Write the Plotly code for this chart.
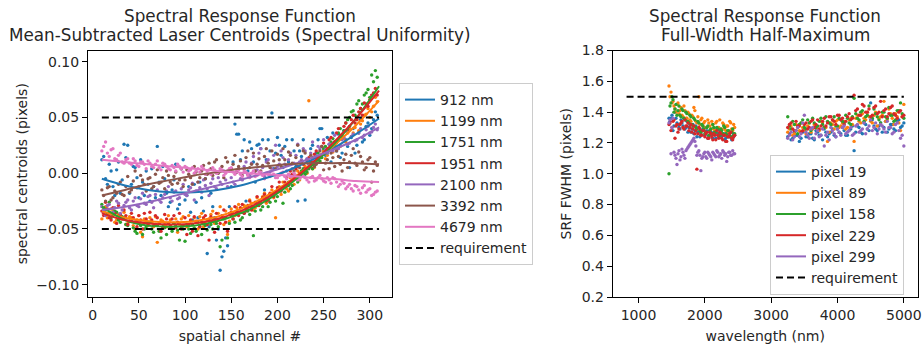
import plotly.graph_objects as go

FONT = "DejaVu Sans"
TXT = "#262626"
W, H = 923, 346

# ---------------- left panel data ----------------
channels_a = list(range(10, 307, 4))
channels_b = list(range(12, 309, 4))
fit_channels = [10, 35, 60, 85, 110, 135, 160, 185, 210, 235, 260, 285, 310]
laser_names = ["912 nm", "1199 nm", "1751 nm", "1951 nm", "2100 nm", "3392 nm", "4679 nm"]
laser_colors = ["#1f77b4", "#ff7f0e", "#2ca02c", "#d62728", "#9467bd", "#8c564b", "#e377c2"]

c912_a = [0.012, -0.005, 0.008, -0.012, 0.003, -0.018, 0.026,
          0.025, -0.010, 0.005, -0.022, -0.008, 0.002,
          -0.025, -0.012, 0.024, -0.020, -0.005, -0.030,
          -0.015, 0.008, -0.028, 0.012, -0.020, -0.035,
          -0.010, -0.040, -0.022, -0.005, -0.048, -0.030,
          -0.060, -0.087, -0.070, -0.065, -0.012, 0.044,
          0.035, 0.020, -0.025, 0.028, 0.010, 0.025,
          0.022, -0.015, 0.030, 0.054, 0.018, 0.025,
          0.005, 0.030, -0.002, 0.020, -0.025, 0.015,
          -0.024, 0.005, 0.025, 0.018, 0.040, 0.020,
          0.032, 0.010, 0.028, 0.035, 0.018, 0.030,
          0.005, 0.040, 0.025, 0.048, 0.030, 0.045,
          0.040, 0.055]
c912_b = [0.015, -0.010, 0.002, -0.020, 0.010, -0.006, 0.014,
          -0.018, 0.006, -0.004, 0.012, -0.020, -0.010,
          0.004, -0.022, -0.008, 0.006, -0.018, -0.026,
          -0.006, -0.032, 0.004, -0.024, -0.012, -0.042,
          -0.026, -0.008, -0.034, -0.072, -0.018, -0.040,
          -0.050, -0.075, -0.058, -0.030, 0.010, 0.035,
          0.012, 0.030, 0.002, 0.022, -0.008, 0.026,
          0.030, 0.012, 0.020, 0.004, 0.032, 0.016,
          0.024, 0.010, 0.030, 0.006, 0.020, 0.030,
          0.012, 0.022, 0.008, 0.030, 0.040, 0.016,
          0.026, 0.036, 0.020, 0.014, 0.038, 0.024,
          0.032, 0.018, 0.036, 0.028, 0.042, 0.034,
          0.048, 0.052]
c1199_a = [-0.041, -0.030, -0.036, -0.033, -0.042, -0.038, -0.035,
           -0.045, -0.040, -0.050, -0.038, -0.057, -0.044,
           -0.040, -0.048, -0.062, -0.042, -0.046, -0.038,
           -0.050, -0.041, -0.046, -0.039, -0.048, -0.043,
           -0.040, -0.050, -0.036, -0.045, -0.041, -0.034,
           -0.042, -0.030, -0.046, -0.055, -0.032, -0.038,
           -0.028, -0.035, -0.030, -0.024, -0.033, -0.022,
           -0.026, -0.018, -0.024, -0.015, -0.040, -0.012,
           -0.008, -0.014, -0.004, -0.010, 0.002, -0.003,
           0.006, 0.065, 0.004, 0.014, 0.010, 0.020,
           0.016, 0.026, 0.022, 0.030, 0.034, 0.028,
           0.040, 0.036, 0.048, 0.044, 0.052, 0.058,
           0.055, 0.068]
c1199_b = [-0.036, -0.040, -0.032, -0.044, -0.037, -0.041, -0.046,
           -0.039, -0.047, -0.042, -0.053, -0.041, -0.047,
           -0.044, -0.039, -0.051, -0.043, -0.048, -0.042,
           -0.045, -0.053, -0.041, -0.047, -0.038, -0.046,
           -0.044, -0.039, -0.048, -0.042, -0.037, -0.045,
           -0.036, -0.041, -0.034, -0.043, -0.036, -0.031,
           -0.035, -0.029, -0.033, -0.027, -0.031, -0.025,
           -0.021, -0.027, -0.019, -0.022, -0.016, -0.019,
           -0.011, -0.016, -0.007, -0.002, -0.006, 0.003,
           0.000, 0.009, 0.005, 0.012, 0.017, 0.013,
           0.022, 0.019, 0.027, 0.024, 0.031, 0.036,
           0.033, 0.041, 0.038, 0.047, 0.053, 0.050,
           0.060, 0.064]
c1751_a = [-0.028, -0.033, -0.026, -0.038, -0.035, -0.044, -0.040,
           -0.047, -0.043, -0.052, -0.045, -0.055, -0.048,
           -0.044, -0.053, -0.047, -0.058, -0.049, -0.045,
           -0.052, -0.047, -0.060, -0.050, -0.046, -0.054,
           -0.049, -0.044, -0.055, -0.047, -0.043, -0.050,
           -0.045, -0.066, -0.041, -0.058, -0.038, -0.044,
           -0.035, -0.040, -0.032, -0.037, -0.056, -0.029,
           -0.033, -0.024, -0.030, -0.020, -0.025, -0.016,
           -0.027, -0.010, -0.014, -0.004, -0.008, 0.002,
           -0.001, 0.008, 0.004, 0.015, 0.011, 0.022,
           0.018, 0.028, 0.025, 0.036, 0.032, 0.045,
           0.050, 0.056, 0.062, 0.058, 0.070, 0.075,
           0.088, 0.092]
c1751_b = [-0.031, -0.036, -0.040, -0.034, -0.042, -0.039, -0.046,
           -0.043, -0.049, -0.054, -0.047, -0.050, -0.044,
           -0.050, -0.046, -0.052, -0.048, -0.055, -0.049,
           -0.045, -0.051, -0.048, -0.061, -0.050, -0.046,
           -0.052, -0.048, -0.045, -0.051, -0.046, -0.042,
           -0.048, -0.060, -0.040, -0.045, -0.041, -0.037,
           -0.042, -0.036, -0.034, -0.030, -0.034, -0.027,
           -0.030, -0.022, -0.026, -0.018, -0.021, -0.013,
           -0.017, -0.008, -0.011, -0.002, -0.005, 0.004,
           0.001, 0.010, 0.007, 0.018, 0.014, 0.024,
           0.021, 0.031, 0.028, 0.040, 0.038, 0.048,
           0.055, 0.052, 0.065, 0.062, 0.072, 0.068,
           0.082, 0.086]
c1951_a = [-0.034, -0.026, -0.040, -0.031, -0.045, -0.037, -0.033,
           -0.046, -0.036, -0.044, -0.038, -0.050, -0.041,
           -0.035, -0.047, -0.040, -0.052, -0.037, -0.045,
           -0.041, -0.049, -0.036, -0.047, -0.055, -0.042,
           -0.039, -0.056, -0.044, -0.038, -0.060, -0.043,
           -0.036, -0.045, -0.033, -0.052, -0.035, -0.030,
           -0.038, -0.028, -0.034, -0.025, -0.030, -0.021,
           -0.027, -0.019, -0.024, -0.012, -0.017, -0.008,
           -0.012, -0.004, 0.002, -0.003, 0.006, 0.010,
           0.004, 0.014, 0.010, 0.020, 0.016, 0.027,
           0.022, 0.032, 0.028, 0.040, 0.035, 0.045,
           0.042, 0.052, 0.048, 0.058, 0.063, 0.060,
           0.070, 0.076]
c1951_b = [-0.038, -0.032, -0.042, -0.036, -0.029, -0.041, -0.038,
           -0.043, -0.040, -0.048, -0.042, -0.036, -0.046,
           -0.042, -0.038, -0.045, -0.049, -0.041, -0.047,
           -0.038, -0.044, -0.050, -0.040, -0.046, -0.052,
           -0.043, -0.048, -0.040, -0.046, -0.039, -0.053,
           -0.042, -0.038, -0.044, -0.036, -0.041, -0.034,
           -0.031, -0.036, -0.029, -0.033, -0.026, -0.029,
           -0.022, -0.025, -0.018, -0.021, -0.013, -0.016,
           -0.008, -0.011, -0.001, 0.004, 0.000, 0.008,
           0.012, 0.006, 0.017, 0.013, 0.024, 0.020,
           0.030, 0.026, 0.036, 0.033, 0.042, 0.039,
           0.048, 0.045, 0.055, 0.052, 0.062, 0.066,
           0.072, 0.070]
c2100_a = [-0.030, -0.038, -0.028, -0.035, -0.025, -0.036, -0.029,
           -0.024, -0.033, -0.022, -0.030, -0.018, -0.028,
           -0.020, -0.031, -0.015, -0.026, -0.019, -0.012,
           -0.025, -0.016, -0.022, -0.010, -0.020, -0.013,
           -0.024, -0.008, -0.017, -0.011, -0.020, -0.005,
           -0.014, -0.008, 0.002, -0.012, -0.004, -0.010,
           0.004, -0.006, 0.010, -0.002, 0.015, 0.003,
           0.022, -0.003, 0.012, 0.004, 0.025, 0.008,
           0.014, 0.002, 0.018, 0.009, 0.026, 0.012,
           0.020, 0.008, 0.028, 0.015, 0.022, 0.030,
           0.018, 0.026, 0.034, 0.022, 0.030, 0.038,
           0.027, 0.035, 0.030, 0.040, 0.034, 0.042,
           0.037, 0.044]
c2100_b = [-0.034, -0.029, -0.036, -0.031, -0.027, -0.033, -0.026,
           -0.031, -0.025, -0.029, -0.023, -0.027, -0.021,
           -0.026, -0.019, -0.024, -0.022, -0.016, -0.022,
           -0.017, -0.023, -0.014, -0.019, -0.015, -0.009,
           -0.016, -0.013, -0.006, -0.014, -0.009, -0.012,
           -0.004, -0.010, -0.006, 0.003, -0.008, 0.001,
           -0.005, 0.006, -0.001, 0.009, 0.002, 0.018,
           0.005, 0.010, 0.001, 0.016, 0.006, 0.020,
           0.008, 0.012, 0.004, 0.016, 0.010, 0.022,
           0.013, 0.018, 0.011, 0.024, 0.016, 0.021,
           0.026, 0.020, 0.028, 0.025, 0.032, 0.026,
           0.033, 0.029, 0.036, 0.032, 0.039, 0.036,
           0.041, 0.039]
c3392_a = [-0.015, -0.025, -0.012, -0.022, -0.018, -0.008, -0.020,
           -0.003, -0.015, 0.002, -0.012, -0.006, -0.016,
           -0.004, -0.012, 0.003, -0.008, -0.014, -0.002,
           -0.010, 0.001, -0.006, -0.012, 0.003, -0.004,
           0.006, -0.008, 0.002, -0.005, 0.009, -0.002,
           0.012, 0.002, -0.004, 0.010, 0.004, 0.016,
           0.006, -0.002, 0.014, 0.005, 0.018, 0.008,
           0.002, 0.015, 0.009, 0.020, 0.004, 0.012,
           0.022, 0.007, 0.016, 0.002, 0.025, 0.010,
           0.018, 0.004, 0.014, 0.008, 0.020, 0.003,
           0.012, 0.018, 0.006, 0.015, 0.002, 0.017,
           0.010, 0.022, 0.007, 0.015, 0.003, 0.012,
           -0.008, 0.010]
c3392_b = [-0.020, -0.013, -0.024, -0.016, -0.010, -0.019, -0.012,
           -0.017, -0.007, -0.013, -0.002, -0.010, -0.005,
           -0.014, -0.001, -0.009, -0.004, 0.002, -0.008,
           -0.003, -0.009, 0.004, -0.006, -0.001, -0.010,
           0.001, -0.004, 0.007, -0.001, 0.004, 0.010,
           0.000, 0.006, 0.014, 0.002, 0.008, 0.001,
           0.011, 0.004, 0.020, 0.008, 0.002, 0.013,
           0.007, 0.022, 0.005, 0.011, 0.017, 0.006,
           0.012, 0.019, 0.009, 0.014, 0.005, 0.020,
           0.011, 0.016, 0.006, 0.012, 0.024, 0.009,
           0.004, 0.014, 0.020, 0.008, 0.012, 0.005,
           0.016, 0.009, 0.019, 0.010, 0.005, 0.014,
           0.002, 0.007]
c4679_a = [0.020, 0.028, 0.015, 0.022, 0.012, 0.018, 0.009,
           0.013, 0.008, 0.011, 0.006, 0.010, 0.004,
           0.009, 0.005, 0.011, 0.003, 0.008, 0.004,
           0.007, 0.002, 0.006, 0.001, 0.005, 0.003,
           0.000, 0.004, 0.006, -0.001, 0.003, 0.005,
           0.000, 0.004, -0.002, 0.002, 0.005, -0.001,
           0.003, -0.003, 0.001, -0.004, 0.002, -0.002,
           0.001, -0.005, -0.001, 0.002, -0.004, -0.002,
           0.001, -0.005, -0.003, 0.000, -0.006, -0.002,
           -0.004, -0.008, -0.003, -0.006, -0.002, -0.007,
           -0.004, -0.009, -0.005, -0.012, -0.007, -0.014,
           -0.010, -0.016, -0.012, -0.018, -0.011, -0.015,
           -0.020, -0.017]
c4679_b = [0.024, 0.018, 0.021, 0.013, 0.016, 0.010, 0.012,
           0.009, 0.013, 0.007, 0.010, 0.008, 0.011,
           0.006, 0.008, 0.005, 0.009, 0.006, 0.003,
           0.005, 0.008, 0.004, 0.006, 0.002, 0.005,
           0.002, 0.001, 0.004, 0.002, -0.001, 0.003,
           0.001, 0.003, 0.000, 0.004, 0.001, 0.003,
           -0.001, 0.002, -0.002, 0.000, -0.003, 0.001,
           -0.002, 0.000, -0.003, -0.001, -0.004, 0.000,
           -0.003, -0.001, -0.004, -0.002, -0.005, -0.003,
           -0.006, -0.004, -0.007, -0.004, -0.005, -0.008,
           -0.006, -0.004, -0.008, -0.010, -0.009, -0.012,
           -0.014, -0.011, -0.015, -0.013, -0.017, -0.014,
           -0.019, -0.016]

fit_912 = [-0.005, -0.011, -0.015, -0.017, -0.017, -0.015, -0.011, -0.005, 0.002, 0.011, 0.022, 0.035, 0.049]
fit_1199 = [-0.034, -0.040, -0.043, -0.044, -0.043, -0.039, -0.032, -0.022, -0.009, 0.007, 0.024, 0.043, 0.065]
fit_1751 = [-0.030, -0.042, -0.047, -0.048, -0.047, -0.043, -0.036, -0.026, -0.012, 0.005, 0.025, 0.049, 0.078]
fit_1951 = [-0.036, -0.042, -0.045, -0.046, -0.045, -0.041, -0.034, -0.024, -0.010, 0.007, 0.027, 0.049, 0.074]
fit_2100 = [-0.033, -0.030, -0.026, -0.021, -0.016, -0.011, -0.006, 0.000, 0.006, 0.013, 0.021, 0.030, 0.041]
fit_3392 = [-0.020, -0.015, -0.010, -0.006, -0.002, 0.001, 0.004, 0.006, 0.008, 0.009, 0.009, 0.009, 0.008]
fit_4679 = [0.012, 0.010, 0.008, 0.006, 0.004, 0.002, 0.0005, -0.001, -0.002, -0.004, -0.005, -0.007, -0.008]

req_channels = [10, 310]
req_centroid = 0.05

# ---------------- right panel data ----------------
wl_swir_a = list(range(1460, 2451, 30))
wl_swir_b = list(range(1475, 2436, 30))
wl_mwir_a = list(range(3250, 5001, 50))
wl_mwir_b = list(range(3275, 4976, 50))
pixel_names = ["pixel 19", "pixel 89", "pixel 158", "pixel 229", "pixel 299"]
pixel_colors = ["#1f77b4", "#ff7f0e", "#2ca02c", "#d62728", "#9467bd"]

p19_swir_a = [1.36, 1.36, 1.28, 1.40, 1.33, 1.30, 1.35, 1.31, 1.29, 1.34, 1.30, 1.27, 1.32, 1.28, 1.24, 1.30, 1.26,
              1.29, 1.25, 1.28, 1.24, 1.27, 1.23, 1.26, 1.29, 1.24, 1.27, 1.25, 1.22, 1.26, 1.24, 1.27, 1.23, 1.25]
p19_swir_b = [1.34, 1.38, 1.31, 1.36, 1.32, 1.29, 1.33, 1.36, 1.30, 1.27, 1.32, 1.29, 1.26, 1.31, 1.27, 1.24, 1.28,
              1.30, 1.26, 1.23, 1.28, 1.25, 1.27, 1.23, 1.26, 1.28, 1.24, 1.26, 1.23, 1.27, 1.25, 1.22, 1.26]
p19_mwir_a = [1.24, 1.22, 1.27, 1.25, 1.23, 1.28, 1.24, 1.26, 1.22, 1.27, 1.25, 1.29, 1.24, 1.27, 1.25, 1.29, 1.26, 1.28,
              1.25, 1.29, 1.15, 1.31, 1.27, 1.33, 1.29, 1.46, 1.31, 1.28, 1.33, 1.30, 1.27, 1.32, 1.29, 1.34, 1.30, 1.33]
p19_mwir_b = [1.26, 1.23, 1.25, 1.21, 1.27, 1.24, 1.26, 1.23, 1.28, 1.25, 1.22, 1.27, 1.26, 1.29, 1.24, 1.27, 1.30,
              1.25, 1.28, 1.31, 1.27, 1.30, 1.26, 1.32, 1.28, 1.35, 1.29, 1.31, 1.27, 1.34, 1.29, 1.32, 1.28, 1.35, 1.31]
p89_swir_a = [1.57, 1.53, 1.47, 1.42, 1.45, 1.39, 1.43, 1.37, 1.41, 1.36, 1.39, 1.34, 1.37, 1.41, 1.33, 1.50, 1.35,
              1.31, 1.34, 1.30, 1.33, 1.29, 1.32, 1.28, 1.34, 1.30, 1.27, 1.33, 1.29, 1.31, 1.27, 1.33, 1.28, 1.30]
p89_swir_b = [1.50, 1.46, 1.44, 1.40, 1.46, 1.41, 1.38, 1.44, 1.36, 1.40, 1.35, 1.38, 1.43, 1.34, 1.37, 1.32, 1.36,
              1.33, 1.30, 1.35, 1.31, 1.34, 1.29, 1.33, 1.30, 1.35, 1.29, 1.32, 1.28, 1.31, 1.34, 1.29, 1.32]
p89_mwir_a = [1.27, 1.31, 1.26, 1.30, 1.33, 1.28, 1.31, 1.27, 1.32, 1.29, 1.34, 1.30, 1.21, 1.33, 1.29, 1.35, 1.31, 1.34,
              1.30, 1.36, 1.21, 1.38, 1.33, 1.36, 1.40, 1.34, 1.38, 1.31, 1.37, 1.47, 1.35, 1.39, 1.32, 1.37, 1.28, 1.45]
p89_mwir_b = [1.29, 1.25, 1.32, 1.28, 1.30, 1.26, 1.33, 1.29, 1.31, 1.28, 1.33, 1.30, 1.27, 1.32, 1.34, 1.30, 1.33,
              1.29, 1.35, 1.32, 1.36, 1.34, 1.39, 1.35, 1.37, 1.33, 1.40, 1.36, 1.38, 1.34, 1.42, 1.36, 1.39, 1.33, 1.37]
p158_swir_a = [1.00, 1.46, 1.48, 1.42, 1.38, 1.44, 1.37, 1.41, 1.35, 1.39, 1.33, 1.37, 1.31, 1.35, 1.29, 1.33, 1.27,
               1.31, 1.26, 1.30, 1.25, 1.29, 1.32, 1.27, 1.30, 1.25, 1.29, 1.26, 1.30, 1.25, 1.28, 1.24, 1.29, 1.26]
p158_swir_b = [1.44, 1.50, 1.40, 1.45, 1.41, 1.38, 1.42, 1.36, 1.40, 1.34, 1.38, 1.32, 1.36, 1.30, 1.34, 1.28, 1.32,
               1.29, 1.27, 1.31, 1.28, 1.26, 1.30, 1.27, 1.29, 1.25, 1.28, 1.31, 1.26, 1.28, 1.24, 1.27, 1.25]
p158_mwir_a = [1.37, 1.29, 1.32, 1.26, 1.33, 1.30, 1.35, 1.28, 1.33, 1.31, 1.36, 1.30, 1.34, 1.32, 1.37, 1.31, 1.35, 1.33,
               1.36, 1.32, 1.49, 1.36, 1.40, 1.34, 1.38, 1.35, 1.42, 1.37, 1.33, 1.40, 1.36, 1.38, 1.34, 1.41, 1.46, 1.36]
p158_mwir_b = [1.31, 1.34, 1.28, 1.32, 1.35, 1.29, 1.33, 1.36, 1.30, 1.34, 1.32, 1.37, 1.33, 1.35, 1.31, 1.36, 1.34,
               1.38, 1.33, 1.37, 1.39, 1.35, 1.41, 1.37, 1.44, 1.36, 1.39, 1.35, 1.40, 1.37, 1.43, 1.38, 1.35, 1.41, 1.39]
p229_swir_a = [1.32, 1.28, 1.34, 1.23, 1.32, 1.29, 1.33, 1.30, 1.35, 1.31, 1.28, 1.32, 1.29, 1.26, 1.03, 1.30, 1.25,
               1.28, 1.24, 1.27, 1.23, 1.26, 1.22, 1.25, 1.28, 1.23, 1.26, 1.22, 1.25, 1.21, 1.24, 1.27, 1.22, 1.25]
p229_swir_b = [1.33, 1.30, 1.35, 1.31, 1.27, 1.32, 1.34, 1.29, 1.31, 1.33, 1.30, 1.27, 1.31, 1.28, 1.26, 1.29, 1.25,
               1.28, 1.26, 1.23, 1.27, 1.24, 1.26, 1.22, 1.25, 1.27, 1.23, 1.25, 1.21, 1.24, 1.26, 1.23, 1.24]
p229_mwir_a = [1.30, 1.33, 1.28, 1.31, 1.27, 1.32, 1.29, 1.34, 1.30, 1.35, 1.31, 1.36, 1.33, 1.37, 1.34, 1.38, 1.35, 1.32,
               1.37, 1.35, 1.51, 1.42, 1.38, 1.44, 1.40, 1.37, 1.43, 1.39, 1.47, 1.41, 1.37, 1.43, 1.39, 1.36, 1.41, 1.38]
p229_mwir_b = [1.32, 1.29, 1.34, 1.31, 1.28, 1.33, 1.30, 1.35, 1.32, 1.29, 1.34, 1.31, 1.37, 1.35, 1.32, 1.38, 1.36,
               1.34, 1.39, 1.36, 1.41, 1.38, 1.45, 1.40, 1.42, 1.38, 1.44, 1.40, 1.37, 1.42, 1.39, 1.44, 1.38, 1.40, 1.37]
p299_swir_a = [1.33, 1.13, 1.36, 1.12, 1.06, 1.15, 1.11, 1.14, 1.10, 1.16, 1.18, 1.20, 1.22, 1.21, 1.12, 1.15, 1.02,
               1.11, 1.14, 1.10, 1.13, 1.11, 1.14, 1.12, 1.15, 1.11, 1.13, 1.15, 1.12, 1.08, 1.14, 1.12, 1.15, 1.13]
p299_swir_b = [1.35, 1.30, 1.14, 1.10, 1.13, 1.09, 1.16, 1.12, 1.15, 1.17, 1.19, 1.21, 1.23, 1.18, 1.14, 1.12, 1.10,
               1.13, 1.11, 1.14, 1.12, 1.09, 1.13, 1.11, 1.14, 1.12, 1.10, 1.14, 1.13, 1.11, 1.14, 1.12, 1.13]
p299_mwir_a = [1.23, 1.27, 1.24, 1.30, 1.26, 1.38, 1.25, 1.29, 1.23, 1.28, 1.25, 1.18, 1.27, 1.30, 1.26, 1.29, 1.25, 1.31,
               1.27, 1.30, 1.26, 1.32, 1.28, 1.33, 1.29, 1.35, 1.30, 1.26, 1.32, 1.29, 1.34, 1.30, 1.27, 1.33, 1.23, 1.18]
p299_mwir_b = [1.25, 1.22, 1.28, 1.24, 1.33, 1.27, 1.23, 1.30, 1.26, 1.24, 1.29, 1.25, 1.22, 1.28, 1.24, 1.27, 1.30,
               1.26, 1.28, 1.25, 1.31, 1.27, 1.29, 1.26, 1.31, 1.28, 1.33, 1.29, 1.31, 1.27, 1.30, 1.26, 1.32, 1.28, 1.25]

req_wl = [820, 5000]
req_fwhm = 1.5

# ---------------- figure ----------------
fig = go.Figure()

left_a = [c912_a, c1199_a, c1751_a, c1951_a, c2100_a, c3392_a, c4679_a]
left_b = [c912_b, c1199_b, c1751_b, c1951_b, c2100_b, c3392_b, c4679_b]
left_fits = [fit_912, fit_1199, fit_1751, fit_1951, fit_2100, fit_3392, fit_4679]

for va, vb, col in zip(left_a, left_b, laser_colors):
    fig.add_trace(go.Scatter(x=channels_a + channels_b, y=va + vb, mode="markers", xaxis="x", yaxis="y",
                             marker=dict(size=3.4, color=col, line=dict(width=0)),
                             showlegend=False, hoverinfo="skip"))
for i, (fit, col, name) in enumerate(zip(left_fits, laser_colors, laser_names)):
    fig.add_trace(go.Scatter(x=fit_channels, y=fit, mode="lines", xaxis="x", yaxis="y",
                             line=dict(color=col, width=2, shape="spline"), name=name,
                             legend="legend", legendgroup=f"l{i}"))

fig.add_trace(go.Scatter(x=req_channels + [None] + req_channels,
                         y=[req_centroid] * 2 + [None] + [-req_centroid] * 2,
                         mode="lines", xaxis="x", yaxis="y", name="requirement",
                         line=dict(color="black", width=2, dash="7px,4px"),
                         legend="legend", legendgroup="lreq"))

right_sets = [
    (p19_swir_a, p19_swir_b, p19_mwir_a, p19_mwir_b),
    (p89_swir_a, p89_swir_b, p89_mwir_a, p89_mwir_b),
    (p158_swir_a, p158_swir_b, p158_mwir_a, p158_mwir_b),
    (p229_swir_a, p229_swir_b, p229_mwir_a, p229_mwir_b),
    (p299_swir_a, p299_swir_b, p299_mwir_a, p299_mwir_b),
]
wl_all = wl_swir_a + wl_swir_b + wl_mwir_a + wl_mwir_b
for (sa, sb, ma, mb), col in zip(right_sets, pixel_colors):
    fig.add_trace(go.Scatter(x=wl_all, y=sa + sb + ma + mb, mode="markers", xaxis="x2", yaxis="y2",
                             marker=dict(size=3.4, color=col, line=dict(width=0)),
                             showlegend=False, hoverinfo="skip"))
for i, (col, name) in enumerate(zip(pixel_colors, pixel_names)):
    fig.add_trace(go.Scatter(x=[None], y=[None], mode="lines", xaxis="x2", yaxis="y2",
                             line=dict(color=col, width=2), name=name,
                             legend="legend2", legendgroup=f"r{i}"))
fig.add_trace(go.Scatter(x=req_wl, y=[req_fwhm] * 2, mode="lines", xaxis="x2", yaxis="y2",
                         name="requirement", line=dict(color="black", width=2, dash="7px,4px"),
                         legend="legend2", legendgroup="rreq"))

axis_common = dict(showline=True, linecolor="black", linewidth=1, mirror=True,
                   ticks="outside", ticklen=5, tickwidth=1, tickcolor="black",
                   showgrid=False, zeroline=False, automargin=False,
                   tickfont=dict(family=FONT, size=14, color=TXT))

ydom = [1 - 297 / H, 1 - 50.5 / H]
fig.update_layout(
    width=W, height=H, autosize=False,
    margin=dict(l=0, r=0, t=0, b=0, pad=0),
    paper_bgcolor="white", plot_bgcolor="white",
    font=dict(family=FONT, size=14, color=TXT),
    xaxis=dict(domain=[88 / W, 392 / W], range=[-5, 324], tickvals=[0, 50, 100, 150, 200, 250, 300],
               title=dict(text="spatial channel #", standoff=9, font=dict(size=14)), anchor="y", **axis_common),
    yaxis=dict(domain=ydom, range=[-0.111, 0.110], tickvals=[-0.10, -0.05, 0.0, 0.05, 0.10], tickformat=".2f",
               title=dict(text="spectral centroids (pixels)", standoff=5, font=dict(size=14)), anchor="x", **axis_common),
    xaxis2=dict(domain=[612.7 / W, 917.7 / W], range=[611, 5209], tickvals=[1000, 2000, 3000, 4000, 5000],
                title=dict(text="wavelength (nm)", standoff=9, font=dict(size=14)), anchor="y2", **axis_common),
    yaxis2=dict(domain=ydom, range=[0.2, 1.8], tickvals=[0.2, 0.4, 0.6, 0.8, 1.0, 1.2, 1.4, 1.6, 1.8],
                tickformat=".1f",
                title=dict(text="SRF FWHM (pixels)", standoff=6, font=dict(size=14)), anchor="x2", **axis_common),
    legend=dict(x=399 / W, y=1 - 83 / H, xanchor="left", yanchor="top",
                bgcolor="rgba(255,255,255,0.8)", bordercolor="#cccccc", borderwidth=1,
                font=dict(family=FONT, size=14, color=TXT), itemwidth=30, tracegroupgap=0),
    legend2=dict(x=770 / W, y=1 - 155 / H, xanchor="left", yanchor="top",
                 bgcolor="rgba(255,255,255,0.8)", bordercolor="#cccccc", borderwidth=1,
                 font=dict(family=FONT, size=14, color=TXT), itemwidth=30, tracegroupgap=0),
)

titles = [
    (240 / W, "Spectral Response Function", "Mean-Subtracted Laser Centroids (Spectral Uniformity)"),
    (765 / W, "Spectral Response Function", "Full-Width Half-Maximum"),
]
for xc, l1, l2 in titles:
    fig.add_annotation(x=xc, y=1 - 16 / H, xref="paper", yref="paper", text=l1, showarrow=False,
                       xanchor="center", yanchor="middle", font=dict(family=FONT, size=16.8, color=TXT))
    fig.add_annotation(x=xc, y=1 - 35 / H, xref="paper", yref="paper", text=l2, showarrow=False,
                       xanchor="center", yanchor="middle", font=dict(family=FONT, size=16.8, color=TXT))

fig.write_html("out.html")
